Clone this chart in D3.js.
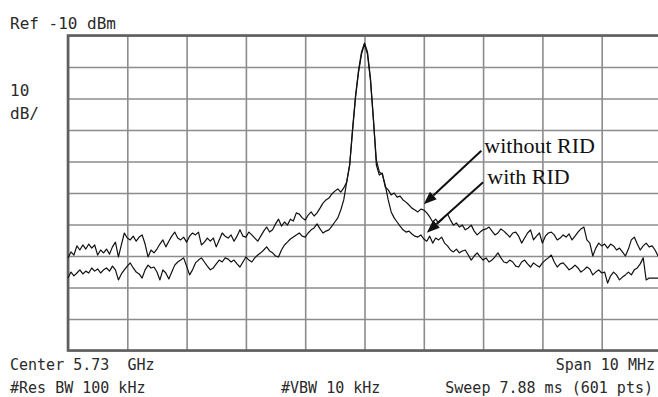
<!DOCTYPE html>
<html>
<head>
<meta charset="utf-8">
<script src="https://cdn.jsdelivr.net/npm/d3@7"></script>
<style>
  html, body { margin: 0; padding: 0; background: #fff; }
  svg { display: block; }
  .mono { font-family: "DejaVu Sans Mono", "Liberation Mono", monospace; fill: #2a2a2a; white-space: pre; }
  .serif { font-family: "Liberation Serif", "Times New Roman", serif; fill: #111; }
</style>
</head>
<body>
<svg id="chart" width="658" height="397"></svg>
<script>
// ---- data ----
const centerGHz = 5.73;
const spanMHz = 10;
const refLevelDbm = -10;
const dbPerDiv = 10;
const freqTicksMHz = [-5, -4, -3, -2, -1, 0, 1, 2, 3, 4, 5];
const levelTicksDbm = [-110, -100, -90, -80, -70, -60, -50, -40, -30, -20, -10];

// trace levels (dBm), evenly spaced over the 10 MHz span
const withoutRID = [
  -80.6,-78.7,-79.7,-76.8,-78.1,-76.5,-77.8,-76.2,-77.5,-76.5,
  -79.7,-78.1,-79.0,-77.8,-79.4,-77.1,-75.6,-80.3,-76.5,-72.7,
  -74.3,-74.9,-73.7,-75.3,-74.0,-73.3,-76.2,-80.3,-78.1,-79.0,
  -77.8,-76.2,-74.9,-77.1,-75.3,-73.7,-72.4,-74.3,-74.9,-74.0,
  -75.6,-73.7,-72.7,-73.3,-72.4,-76.5,-75.6,-74.3,-75.3,-74.3,
  -77.1,-74.9,-72.7,-73.7,-74.3,-73.3,-75.3,-73.7,-71.7,-73.7,
  -74.0,-72.4,-73.3,-74.3,-75.3,-73.7,-72.1,-70.8,-72.4,-71.7,
  -69.8,-68.3,-70.5,-69.2,-70.2,-68.3,-68.9,-66.3,-66.7,-67.9,
  -68.6,-67.0,-66.0,-67.3,-66.3,-64.8,-63.2,-62.2,-61.6,-60.3,
  -59.4,-58.7,-59.7,-58.4,-56.5,-51.1,-39.4,-28.9,-21.0,-15.2,
  -12.4,-15.2,-23.5,-36.2,-51.1,-54.3,-53.7,-58.1,-59.0,-60.6,
  -60.0,-61.3,-61.0,-62.2,-62.9,-63.8,-64.8,-65.4,-66.0,-65.1,
  -65.4,-66.3,-67.6,-69.2,-68.3,-69.5,-68.6,-67.6,-66.7,-68.6,
  -70.2,-69.5,-70.8,-70.2,-71.7,-71.1,-70.2,-72.1,-73.3,-72.4,
  -71.7,-71.4,-70.8,-72.1,-73.3,-72.7,-71.4,-72.1,-73.0,-74.0,
  -72.7,-72.4,-73.7,-75.9,-74.3,-72.7,-71.7,-74.9,-73.7,-72.7,
  -75.9,-73.7,-72.7,-72.4,-73.3,-74.9,-74.3,-73.3,-74.0,-73.0,
  -74.9,-73.7,-72.4,-71.4,-70.8,-74.9,-75.9,-80.0,-77.5,-75.9,
  -76.8,-76.2,-77.5,-76.2,-76.8,-78.1,-77.5,-78.7,-80.0,-77.8,
  -74.9,-74.0,-76.2,-78.1,-76.8,-75.9,-77.1,-76.8,-78.1,-80.0,
  -78.1
];
const withRID = [
  -87.0,-85.1,-86.3,-85.4,-84.4,-85.7,-84.8,-85.4,-83.8,-84.8,
  -84.1,-85.4,-84.4,-83.8,-84.8,-83.2,-84.4,-87.6,-85.7,-84.4,
  -83.2,-82.2,-83.8,-85.1,-85.7,-87.0,-84.4,-82.9,-83.8,-83.5,
  -85.1,-87.6,-84.4,-85.4,-87.3,-85.1,-82.9,-81.9,-81.3,-80.6,
  -83.2,-86.0,-84.4,-82.2,-81.3,-80.6,-81.9,-83.2,-84.4,-83.8,
  -82.5,-81.3,-81.9,-80.6,-81.0,-81.9,-81.3,-82.5,-83.5,-81.9,
  -80.3,-81.3,-81.9,-80.6,-79.7,-79.0,-78.1,-77.1,-78.4,-79.0,
  -80.0,-80.3,-78.1,-76.5,-75.6,-74.6,-74.0,-73.3,-72.7,-73.7,
  -74.0,-72.7,-71.7,-71.1,-69.8,-71.4,-72.7,-72.1,-71.7,-70.5,
  -69.2,-67.9,-65.4,-62.2,-56.5,-51.1,-40.0,-29.5,-21.6,-15.9,
  -12.7,-15.9,-24.1,-36.8,-49.5,-53.3,-54.0,-57.5,-62.2,-66.0,
  -67.9,-69.2,-70.5,-71.7,-72.4,-72.1,-73.0,-73.7,-74.0,-73.3,
  -74.6,-75.3,-73.7,-75.9,-74.3,-74.9,-74.0,-75.9,-76.8,-78.1,
  -78.7,-77.8,-79.0,-78.4,-78.1,-79.7,-81.3,-80.0,-79.0,-80.3,
  -81.3,-80.6,-81.9,-81.3,-80.3,-79.0,-80.6,-81.9,-82.2,-81.3,
  -81.9,-83.2,-83.5,-81.9,-81.3,-82.5,-83.5,-82.2,-82.9,-83.5,
  -82.2,-81.3,-80.6,-79.7,-81.9,-83.5,-82.5,-82.2,-83.2,-84.4,
  -83.8,-82.9,-83.8,-85.1,-84.4,-83.5,-84.1,-86.0,-85.1,-84.4,
  -85.4,-85.1,-88.6,-86.3,-85.1,-86.0,-87.6,-86.7,-86.0,-85.1,
  -86.0,-84.4,-83.8,-82.5,-80.6,-87.6,-87.0,-87.0,-87.0,-87.0,
  -87.0
];

// annotations: label text, label anchor (MHz offset, dBm), arrow tail and tip (MHz, dBm)
const annoLabels = ["without RID", "with RID"];
const annoLabelPos = [[2.02, -47.3], [2.07, -57.1]];
const annoArrowTail = [[1.97, -46.6], [2.0, -56.6]];
const annoArrowTip = [[1.00, -63.6], [1.05, -72.6]];

// ---- drawing ----
const svg = d3.select("#chart");
const plotLeft = 68, plotTop = 35.5;
const divW = 59.3, divH = 31.5;
const plotW = divW * 10, plotH = divH * 10;

const x = d3.scaleLinear().domain([-spanMHz / 2, spanMHz / 2]).range([plotLeft, plotLeft + plotW]);
const y = d3.scaleLinear().domain([refLevelDbm - 10 * dbPerDiv, refLevelDbm]).range([plotTop + plotH, plotTop]);

// grid through the library's axes
const gx = svg.append("g").attr("transform", `translate(0,${plotTop + plotH})`)
  .call(d3.axisBottom(x).tickValues(freqTicksMHz).tickSize(-plotH).tickFormat(""));
gx.select(".domain").remove();
gx.selectAll(".tick line").attr("stroke", "#8c8c8c").attr("stroke-width", 1.6);

const gy = svg.append("g").attr("transform", `translate(${plotLeft},0)`)
  .call(d3.axisLeft(y).tickValues(levelTicksDbm).tickSize(-plotW).tickFormat(""));
gy.select(".domain").remove();
gy.selectAll(".tick line").attr("stroke", "#8c8c8c").attr("stroke-width", 1.6);

// frame
svg.append("rect")
  .attr("x", x(-spanMHz / 2)).attr("y", y(refLevelDbm))
  .attr("width", x(spanMHz / 2) - x(-spanMHz / 2))
  .attr("height", y(refLevelDbm - 10 * dbPerDiv) - y(refLevelDbm))
  .attr("fill", "none").attr("stroke", "#5f5f5f").attr("stroke-width", 2.6);

// traces
const step = spanMHz / (withoutRID.length - 1);
const line = d3.line()
  .x((d, i) => x(-spanMHz / 2 + i * step))
  .y(d => y(d));

[withoutRID, withRID].forEach(series => {
  svg.append("path")
    .datum(series)
    .attr("d", line)
    .attr("fill", "none")
    .attr("stroke", "#111")
    .attr("stroke-width", 1.2)
    .attr("stroke-linejoin", "round");
});

// annotations
annoLabels.forEach((t, k) => {
  svg.append("text").attr("class", "serif")
    .attr("x", x(annoLabelPos[k][0])).attr("y", y(annoLabelPos[k][1]))
    .attr("font-size", 22).text(t);
  const x1 = x(annoArrowTail[k][0]), y1 = y(annoArrowTail[k][1]);
  const x2 = x(annoArrowTip[k][0]), y2 = y(annoArrowTip[k][1]);
  const ang = Math.atan2(y2 - y1, x2 - x1);
  const hl = 13, hw = 5;
  const bx = x2 - hl * Math.cos(ang), by = y2 - hl * Math.sin(ang);
  svg.append("line").attr("x1", x1).attr("y1", y1).attr("x2", bx).attr("y2", by)
    .attr("stroke", "#111").attr("stroke-width", 2);
  const px = -Math.sin(ang), py = Math.cos(ang);
  svg.append("path")
    .attr("d", `M${x2},${y2}L${bx + hw * px},${by + hw * py}L${bx - hw * px},${by - hw * py}Z`)
    .attr("fill", "#111");
});

// instrument text
const mono = (tx, ty, txt, anchor, size) => svg.append("text").attr("class", "mono")
  .attr("x", tx).attr("y", ty).attr("font-size", size || 15)
  .attr("text-anchor", anchor || "start").text(txt);

mono(10, 29, `Ref ${refLevelDbm} dBm`, "start", 16);
mono(10, 96, `${dbPerDiv}`, "start", 16);
mono(10, 119, "dB/", "start", 16);
mono(10, 370, `Center ${centerGHz}  GHz`);
mono(655, 370, `Span ${spanMHz} MHz`, "end");
mono(10, 393, "#Res BW 100 kHz");
mono(281, 393, "#VBW 10 kHz");
mono(653, 393, "Sweep 7.88 ms (601 pts)", "end");
</script>
</body>
</html>
